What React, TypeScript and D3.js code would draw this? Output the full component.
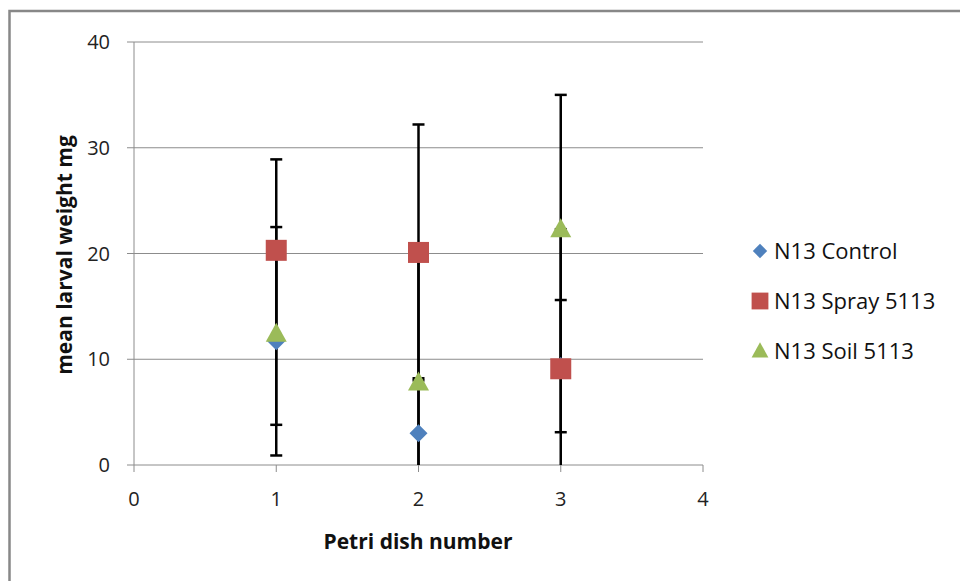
import React from "react";
import * as d3 from "d3";

const dishes = [1, 2, 3];
const seriesNames = ["N13 Control", "N13 Spray 5113", "N13 Soil 5113"];
const controlMeans = [11.7, 3.0, 9.35];
const controlErr = [10.8, 5.2, 6.25];
const sprayMeans = [20.3, 20.1, 9.1];
const sprayErr = [8.6, 12.1, 13.2];
const soilMeans = [12.4, 7.8, 22.3];
const soilErr = [8.6, 12.3, 12.7];
const xTicks = [0, 1, 2, 3, 4];
const yTicks = [0, 10, 20, 30, 40];

const colors = ["#4F81BD", "#C0504D", "#9BBB59"];
const FONT = "'Open Sans', 'Noto Sans', sans-serif";

function Marker({ kind, x, y, color, s = 1 }: { kind: number; x: number; y: number; color: string; s?: number }) {
  if (kind === 0) {
    const h = 9 * s;
    return <path d={`M${x},${y - h}L${x + h},${y}L${x},${y + h}L${x - h},${y}Z`} fill={color} />;
  }
  if (kind === 1) {
    const h = 10.5 * s;
    return <rect x={x - h} y={y - h} width={2 * h} height={2 * h} fill={color} />;
  }
  const w = 10.5 * s;
  return <path d={`M${x},${y - 11 * s}L${x + w},${y + 8 * s}L${x - w},${y + 8 * s}Z`} fill={color} />;
}

export default function App() {
  const W = 960, H = 581;
  const x = d3.scaleLinear().domain([0, 4]).range([134, 703]);
  const y = d3.scaleLinear().domain([0, 40]).range([465, 42]);
  const series = [
    { name: seriesNames[0], means: controlMeans, err: controlErr },
    { name: seriesNames[1], means: sprayMeans, err: sprayErr },
    { name: seriesNames[2], means: soilMeans, err: soilErr },
  ];
  const capW = 6;
  return (
    <svg width={W} height={H} style={{ position: "absolute", left: 0, top: 0 }}>
      <rect x={0} y={0} width={W} height={H} fill="#fff" />
      <rect x={9.5} y={11} width={W + 20} height={H + 20} fill="none" stroke="#888" strokeWidth={2.5} />
      {yTicks.filter((t) => t > 0).map((t) => (
        <line key={t} x1={x(0)} x2={x(4)} y1={y(t)} y2={y(t)} stroke="#8c8c8c" strokeWidth={1} />
      ))}
      <line x1={x(0)} x2={x(0)} y1={y(0)} y2={y(40)} stroke="#8c8c8c" strokeWidth={1} />
      <line x1={x(0)} x2={x(4)} y1={y(0)} y2={y(0)} stroke="#8c8c8c" strokeWidth={1} />
      {yTicks.map((t) => (
        <g key={t}>
          <line x1={x(0) - 7} x2={x(0)} y1={y(t)} y2={y(t)} stroke="#8c8c8c" />
          <text x={x(0) - 24} y={y(t)} dy="0.36em" textAnchor="end" fontFamily={FONT} fontSize={20} fill="#222">
            {t}
          </text>
        </g>
      ))}
      {xTicks.map((t) => (
        <g key={t}>
          <line x1={x(t)} x2={x(t)} y1={y(0)} y2={y(0) + 7} stroke="#8c8c8c" />
          <text x={x(t)} y={y(0) + 41} textAnchor="middle" fontFamily={FONT} fontSize={20} fill="#222">
            {t}
          </text>
        </g>
      ))}
      {series.map((s, si) =>
        dishes.map((d, i) => {
          const lo = s.means[i] - s.err[i];
          const hi = s.means[i] + s.err[i];
          const loC = Math.max(0, lo);
          const cx = x(d);
          return (
            <g key={`${si}-${i}`} stroke="#000" strokeWidth={2.5}>
              <line x1={cx} x2={cx} y1={y(loC)} y2={y(hi)} />
              <line x1={cx - capW} x2={cx + capW} y1={y(hi)} y2={y(hi)} />
              {lo >= 0 && <line x1={cx - capW} x2={cx + capW} y1={y(lo)} y2={y(lo)} />}
            </g>
          );
        })
      )}
      {series.map((s, si) =>
        dishes.map((d, i) => <Marker key={`m${si}-${i}`} kind={si} x={x(d)} y={y(s.means[i])} color={colors[si]} />)
      )}
      <text x={418} y={549} textAnchor="middle" fontFamily={FONT} fontWeight="bold" fontSize={21} fill="#111">
        Petri dish number
      </text>
      <text
        transform={`translate(72,${255}) rotate(-90)`}
        textAnchor="middle"
        fontFamily={FONT}
        fontWeight="bold"
        fontSize={21}
        fill="#111"
      >
        mean larval weight mg
      </text>
      {series.map((s, si) => {
        const ly = 251 + si * 50;
        return (
          <g key={`l${si}`}>
            <Marker kind={si} x={760} y={ly} color={colors[si]} s={0.8} />
            <text x={774} y={ly} dy="0.36em" fontFamily={FONT} fontSize={22} fill="#111">
              {s.name}
            </text>
          </g>
        );
      })}
    </svg>
  );
}
